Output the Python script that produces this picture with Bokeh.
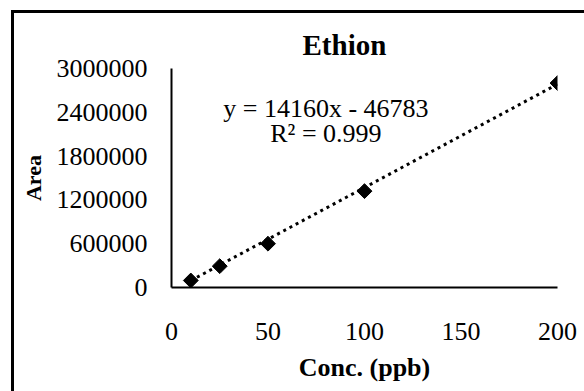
from bokeh.plotting import figure
from bokeh.models import (Range1d, FixedTicker, BasicTickFormatter, Label, Title,
                          ColumnDataSource, InlineStyleSheet)
from bokeh.embed import file_html
from bokeh.resources import INLINE

# ---- data ----
conc = [10, 25, 50, 100, 200]
area = [96000, 292000, 600000, 1320000, 2800000]
slope = 14160
intercept = -46783
x_ticks = [0, 50, 100, 150, 200]
y_ticks = [0, 600000, 1200000, 1800000, 2400000, 3000000]
title_text = "Ethion"
x_title = "Conc. (ppb)"
y_title = "Area"
eq_text = "y = 14160x - 46783"
r2_text = "R\u00b2 = 0.999"

FONT = "Liberation Serif"

p = figure(width=584, height=391, output_backend="svg", toolbar_location=None,
           x_range=Range1d(0, 200), y_range=Range1d(0, 3000000),
           min_border_left=171, min_border_right=27, min_border_top=68,
           min_border_bottom=104, title=None)
p.background_fill_color = "white"
p.border_fill_color = "white"
p.outline_line_color = None
p.grid.visible = False

# title
t = Title(text=title_text, align="left", offset=131, text_font=FONT,
          text_font_size="29px", text_font_style="bold", text_color="black",
          standoff=16)
p.add_layout(t, "above")

# axes
for ax in (p.xaxis[0], p.yaxis[0]):
    ax.major_tick_out = 0
    ax.major_tick_in = 0
    ax.minor_tick_out = 0
    ax.minor_tick_in = 0
    ax.axis_line_color = "black"
    ax.axis_line_width = 2
    ax.major_label_text_font = FONT
    ax.major_label_text_font_size = "26px"
    ax.major_label_text_color = "black"
    ax.axis_label_text_font = FONT
    ax.axis_label_text_font_style = "bold"
    ax.axis_label_text_color = "black"

p.xaxis.ticker = FixedTicker(ticks=x_ticks)
p.yaxis.ticker = FixedTicker(ticks=y_ticks)
p.yaxis.formatter = BasicTickFormatter(use_scientific=False)
p.xaxis.major_label_standoff = 35
p.yaxis.major_label_standoff = 24
p.xaxis.axis_label = x_title
p.xaxis.axis_label_text_font_size = "26px"
p.xaxis.axis_label_standoff = 10
p.yaxis.axis_label = y_title
p.yaxis.axis_label_text_font_size = "22px"
p.yaxis.axis_label_standoff = 8

# trend line (linear trendline from min x to max x)
tx = [conc[0], conc[-1]]
ty = [slope * v + intercept for v in tx]
p.line(tx, ty, line_color="black", line_width=3, line_dash="3 4")

# data points (diamonds)
src = ColumnDataSource(dict(x=conc, y=area))
p.scatter("x", "y", source=src, marker="square", angle=45, angle_units="deg",
          size=10.5, fill_color="black", line_color="black")

# equation labels
p.add_layout(Label(x=80, y=2452000, text=eq_text, text_align="center",
                   text_baseline="alphabetic", text_font=FONT,
                   text_font_size="26px", text_color="black"))
p.add_layout(Label(x=80, y=2110000, text=r2_text, text_align="center",
                   text_baseline="alphabetic", text_font=FONT,
                   text_font_size="26px", text_color="black"))

# outer frame lines (left & top) drawn with CSS, on top of the canvas
p.stylesheets = [InlineStyleSheet(css="""
:host::after {
  content: "";
  position: absolute;
  left: 11px; top: 10px; right: 0; bottom: 0;
  border-left: 3px solid black;
  border-top: 3px solid black;
  pointer-events: none;
  z-index: 10;
}
""")]

open("out.html", "w").write(file_html(p, INLINE))
